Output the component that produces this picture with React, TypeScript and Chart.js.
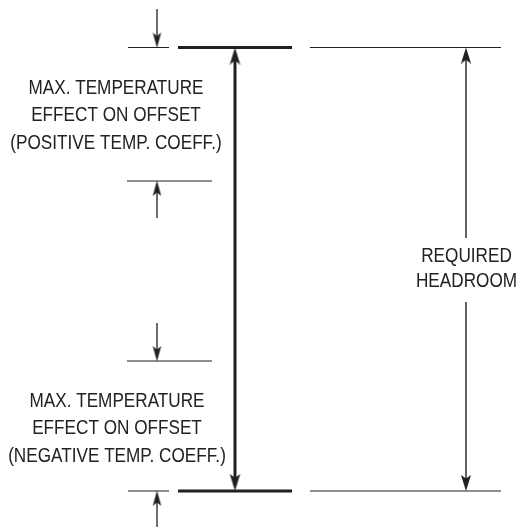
import React, { useEffect, useRef } from 'react';
import { Chart, registerables } from 'chart.js';
Chart.register(...registerables);

const W = 519;
const H = 527;

// Levels of the diagram (diagram units, y grows downward)
const levels = [47.5, 181, 361, 491]; // top, end of +TC band, start of -TC band, bottom

// horizontal extents of the level marks
const thickSpan = [178, 292];
const leftTickSpan = [128, 169];
const rightTickSpan = [310, 501];
const midTickSpan = [127, 212];

// arrows
const mainArrowX = 235;
const headroomArrowX = 466;
const headroomGap = [238, 302];
const smallArrowX = 157;
const smallArrowTails = [9, 218, 323, 527];
const smallArrowDir = ['down', 'up', 'down', 'up'];

// texts
const posLabel = ['MAX. TEMPERATURE', 'EFFECT ON OFFSET', '(POSITIVE TEMP. COEFF.)'];
const negLabel = ['MAX. TEMPERATURE', 'EFFECT ON OFFSET', '(NEGATIVE TEMP. COEFF.)'];
const headroomLabel = ['REQUIRED', 'HEADROOM'];
const posLabelAnchor = [116, 93.5];
const negLabelAnchor = [117, 406.5];
const headroomLabelAnchor = [466.5, 262];

const INK = '#231f20';
const TEXT = '#222222';

function makeHead(w: number, l: number): HTMLCanvasElement {
  const c = document.createElement('canvas');
  c.width = Math.ceil(w) + 2;
  c.height = Math.ceil(l) * 2;
  const g = c.getContext('2d')!;
  const cx = c.width / 2;
  g.fillStyle = INK;
  g.beginPath();
  g.moveTo(cx, l);
  g.lineTo(cx + w / 2, 2 * l);
  g.lineTo(cx, 2 * l - l * 0.22);
  g.lineTo(cx - w / 2, 2 * l);
  g.closePath();
  g.fill();
  return c;
}

function seg(x1: number, y1: number, x2: number, y2: number, width: number, color = INK) {
  return {
    data: [{ x: x1, y: y1 }, { x: x2, y: y2 }],
    showLine: true,
    borderColor: color,
    borderWidth: width,
    pointRadius: 0,
    borderCapStyle: 'butt',
    clip: false,
  } as any;
}

const textPlugin = {
  id: 'diagramText',
  afterDatasetsDraw(chart: any) {
    const { ctx, scales } = chart;
    const drawBlock = (lines: string[], anchor: number[], pitch: number) => {
      lines.forEach((t, i) => {
        const px = scales.x.getPixelForValue(anchor[0]);
        const py = scales.y.getPixelForValue(anchor[1] + i * pitch);
        ctx.save();
        ctx.translate(px, py);
        ctx.scale(0.88, 1);
        ctx.font = '19.5px "Liberation Sans", Arial, sans-serif';
        ctx.fillStyle = TEXT;
        ctx.textAlign = 'center';
        ctx.textBaseline = 'alphabetic';
        ctx.fillText(t, 0, 0);
        ctx.restore();
      });
    };
    drawBlock(posLabel, posLabelAnchor, 27.5);
    drawBlock(negLabel, negLabelAnchor, 27.5);
    drawBlock(headroomLabel, headroomLabelAnchor, 25);
  },
};

export default function App() {
  const ref = useRef<HTMLCanvasElement>(null);
  useEffect(() => {
    if (!ref.current) return;
    const bigHead = makeHead(10.5, 17);
    const medHead = makeHead(10, 16);
    const smallHead = makeHead(8.5, 15.5);
    const top = levels[0];
    const bottom = levels[3];

    const datasets: any[] = [];
    // level marks at top and bottom
    [top, bottom].forEach((y) => {
      datasets.push(seg(thickSpan[0], y, thickSpan[1], y, 3));
      datasets.push(seg(leftTickSpan[0], y, leftTickSpan[1], y, 1.2));
      datasets.push(seg(rightTickSpan[0], y, rightTickSpan[1], y, 1.2));
    });
    // intermediate band marks
    [levels[1], levels[2]].forEach((y) => {
      datasets.push(seg(midTickSpan[0], y, midTickSpan[1], y, 1.2));
    });
    // main double arrow shaft
    datasets.push(seg(mainArrowX, top + 8, mainArrowX, bottom - 8, 3));
    // headroom arrow shafts
    datasets.push(seg(headroomArrowX, top + 8, headroomArrowX, headroomGap[0], 1.4));
    datasets.push(seg(headroomArrowX, headroomGap[1], headroomArrowX, bottom - 8, 1.4));
    // small arrow shafts
    smallArrowTails.forEach((t, i) => {
      const h = levels[i];
      const dir = smallArrowDir[i] === 'down' ? -1 : 1;
      datasets.push(seg(smallArrowX, t, smallArrowX, h + dir * 8, 1.3));
    });
    // arrowheads
    const heads: any[] = [
      { x: mainArrowX, y: top, r: 0, s: bigHead },
      { x: mainArrowX, y: bottom, r: 180, s: bigHead },
      { x: headroomArrowX, y: top, r: 0, s: medHead },
      { x: headroomArrowX, y: bottom, r: 180, s: medHead },
      ...levels.map((y, i) => ({ x: smallArrowX, y, r: smallArrowDir[i] === 'down' ? 180 : 0, s: smallHead })),
    ];
    datasets.push({
      data: heads.map((h) => ({ x: h.x, y: h.y })),
      showLine: false,
      pointRadius: 5,
      pointStyle: heads.map((h) => h.s),
      pointRotation: heads.map((h) => h.r),
      clip: false,
    });

    const chart = new Chart(ref.current, {
      type: 'scatter',
      data: { datasets },
      options: {
        animation: false,
        responsive: false,
        events: [],
        layout: { padding: 0, autoPadding: false },
        plugins: { legend: { display: false }, tooltip: { enabled: false } },
        scales: {
          x: { type: 'linear', min: 0, max: W, display: false },
          y: { type: 'linear', min: 0, max: H, reverse: true, display: false },
        },
      },
      plugins: [textPlugin],
    } as any);
    return () => chart.destroy();
  }, []);
  return (
    <div style={{ position: 'fixed', left: 0, top: 0, width: W, height: H, background: '#fff' }}>
      <canvas ref={ref} width={W} height={H} style={{ display: 'block' }} />
    </div>
  );
}
